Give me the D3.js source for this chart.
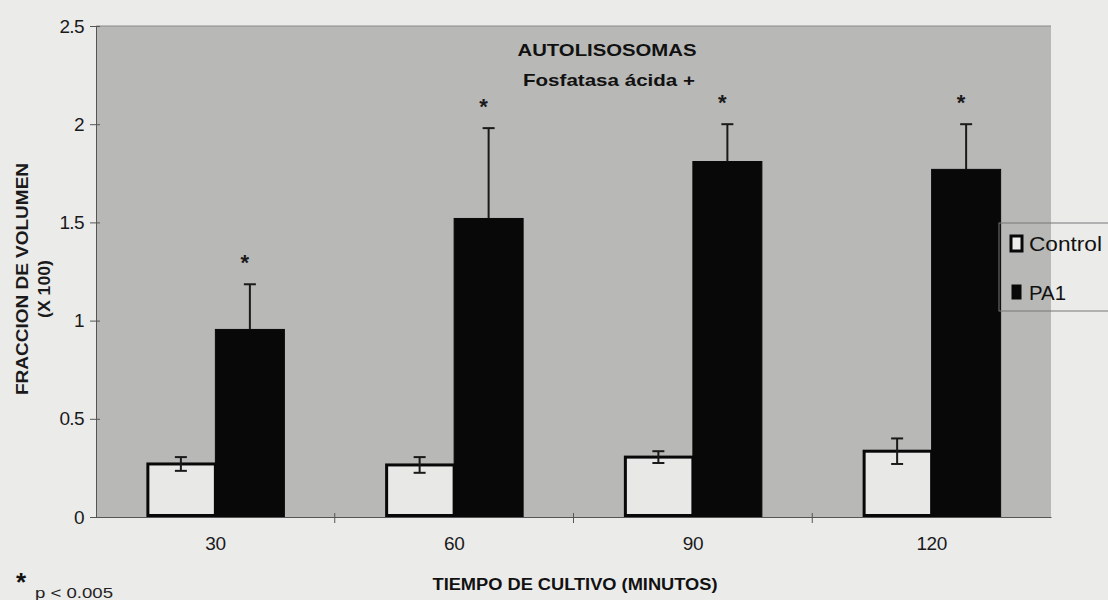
<!DOCTYPE html>
<html>
<head>
<meta charset="utf-8">
<script src="https://cdn.jsdelivr.net/npm/d3@7"></script>
<style>
  body { margin: 0; background: #ebebea; }
  svg { display: block; font-family: "Liberation Sans", Arial, sans-serif; }
</style>
</head>
<body>
<svg id="chart" width="1108" height="600"></svg>
<script>
// data
var categories = ["30", "60", "90", "120"];
var seriesNames = ["Control", "PA1"];
var controlValues = [0.27, 0.265, 0.305, 0.335];
var controlErrors = [0.035, 0.04, 0.03, 0.065];
var pa1Values = [0.955, 1.52, 1.81, 1.77];
var pa1Errors = [0.23, 0.46, 0.19, 0.23];
var significant = [true, true, true, true];
var yTicks = [0, 0.5, 1, 1.5, 2, 2.5];

var svg = d3.select("#chart");
var margin = { left: 96, right: 57, top: 26, bottom: 83 };
var width = 1108 - margin.left - margin.right;
var height = 600 - margin.top - margin.bottom;

var g = svg.append("g").attr("transform", "translate(" + margin.left + "," + margin.top + ")");

var x0 = d3.scaleBand().domain(categories).range([0, width]).padding(0);
var x1 = d3.scaleBand().domain(seriesNames).range([0, x0.bandwidth()]).paddingOuter(0.73).paddingInner(0);
var y = d3.scaleLinear().domain([0, 2.5]).range([height, 0]);

// plot area
g.append("rect")
  .attr("width", width).attr("height", height)
  .attr("fill", "#b8b8b6");
g.append("line")
  .attr("x1", 0).attr("x2", width).attr("y1", 0).attr("y2", 0)
  .attr("stroke", "#8a8a8a").attr("stroke-width", 1);

var rows = categories.map(function (c, i) {
  return [
    { cat: c, key: "Control", v: controlValues[i], e: controlErrors[i] },
    { cat: c, key: "PA1", v: pa1Values[i], e: pa1Errors[i], sig: significant[i] }
  ];
});

var groups = g.selectAll(".grp").data(rows).join("g")
  .attr("class", "grp")
  .attr("transform", function (d) { return "translate(" + x0(d[0].cat) + ",0)"; });

groups.selectAll("rect").data(function (d) { return d; }).join("rect")
  .attr("x", function (d) { return x1(d.key) + (d.key == "Control" ? 1.5 : 0); })
  .attr("y", function (d) { return y(d.v); })
  .attr("width", function (d) { return x1.bandwidth() - (d.key == "Control" ? 1.5 : 0); })
  .attr("height", function (d) { return height - y(d.v) - (d.key == "Control" ? 1.5 : 0); })
  .attr("fill", function (d) { return d.key == "Control" ? "#e8e8e6" : "#080808"; })
  .attr("stroke", "#080808")
  .attr("stroke-width", function (d) { return d.key == "Control" ? 3 : 1; });

// error bars
var err = groups.selectAll(".err").data(function (d) { return d; }).join("g")
  .attr("class", "err")
  .attr("stroke", "#1a1a1a")
  .attr("stroke-width", 2);
err.append("line")
  .attr("x1", function (d) { return x1(d.key) + x1.bandwidth() / 2; })
  .attr("x2", function (d) { return x1(d.key) + x1.bandwidth() / 2; })
  .attr("y1", function (d) { return d.key == "Control" ? y(d.v - d.e) : y(d.v); })
  .attr("y2", function (d) { return y(d.v + d.e); });
err.append("line")
  .attr("x1", function (d) { return x1(d.key) + x1.bandwidth() / 2 - 6; })
  .attr("x2", function (d) { return x1(d.key) + x1.bandwidth() / 2 + 6; })
  .attr("y1", function (d) { return y(d.v + d.e); })
  .attr("y2", function (d) { return y(d.v + d.e); });
err.filter(function (d) { return d.key == "Control"; }).append("line")
  .attr("x1", function (d) { return x1(d.key) + x1.bandwidth() / 2 - 6; })
  .attr("x2", function (d) { return x1(d.key) + x1.bandwidth() / 2 + 6; })
  .attr("y1", function (d) { return y(d.v - d.e); })
  .attr("y2", function (d) { return y(d.v - d.e); });

// significance stars
groups.selectAll(".star").data(function (d) { return d.filter(function (r) { return r.sig; }); }).join("text")
  .attr("class", "star")
  .attr("x", function (d) { return x1(d.key) + x1.bandwidth() / 2 - 5; })
  .attr("y", function (d) { return y(d.v + d.e) - 14; })
  .attr("text-anchor", "middle")
  .attr("font-size", 22)
  .attr("font-weight", "bold")
  .attr("fill", "#1a1a1a")
  .text("*");

// axes
var yAxis = g.append("g")
  .call(d3.axisLeft(y).tickValues(yTicks).tickSize(5).tickFormat(function (d) { return d; }));
yAxis.select(".domain").attr("stroke", "#555");
yAxis.selectAll(".tick line").attr("stroke", "#555").attr("x2", 4).attr("x1", -6);
yAxis.selectAll("text").attr("font-size", 19).attr("fill", "#1a1a1a").attr("x", -12)
  .attr("letter-spacing", -0.6);

var xAxis = g.append("g").attr("transform", "translate(0," + height + ")")
  .call(d3.axisBottom(x0).tickSize(0).tickPadding(20));
xAxis.select(".domain").attr("stroke", "#555");
xAxis.selectAll("text").attr("font-size", 19).attr("fill", "#1a1a1a")
  .attr("letter-spacing", -0.5);
// tick marks between groups
g.selectAll(".sep").data(categories.slice(1)).join("line")
  .attr("class", "sep")
  .attr("x1", function (d) { return x0(d); }).attr("x2", function (d) { return x0(d); })
  .attr("y1", height - 4).attr("y2", height + 6)
  .attr("stroke", "#555");

// titles
g.append("text").attr("x", 511).attr("y", 30)
  .attr("text-anchor", "middle").attr("font-size", 17).attr("font-weight", "bold")
  .attr("textLength", 179).attr("lengthAdjust", "spacingAndGlyphs").attr("fill", "#111")
  .text("AUTOLISOSOMAS");
g.append("text").attr("x", 513).attr("y", 60)
  .attr("text-anchor", "middle").attr("font-size", 17).attr("font-weight", "bold")
  .attr("textLength", 172).attr("lengthAdjust", "spacingAndGlyphs").attr("fill", "#111")
  .text("Fosfatasa ácida +");

svg.append("text")
  .attr("transform", "translate(28,279) rotate(-90)")
  .attr("text-anchor", "middle").attr("font-size", 17).attr("font-weight", "bold")
  .attr("textLength", 232).attr("lengthAdjust", "spacingAndGlyphs")
  .attr("fill", "#1a1a1a")
  .text("FRACCION DE VOLUMEN");
svg.append("text")
  .attr("transform", "translate(50,289) rotate(-90)")
  .attr("text-anchor", "middle").attr("font-size", 17).attr("font-weight", "bold")
  .attr("textLength", 58).attr("lengthAdjust", "spacingAndGlyphs")
  .attr("fill", "#1a1a1a")
  .text("(X 100)");

svg.append("text").attr("x", 575).attr("y", 590)
  .attr("text-anchor", "middle").attr("font-size", 16).attr("font-weight", "bold")
  .attr("textLength", 285).attr("lengthAdjust", "spacingAndGlyphs").attr("fill", "#111")
  .text("TIEMPO DE CULTIVO (MINUTOS)");

svg.append("text").attr("x", 21).attr("y", 591)
  .attr("text-anchor", "middle").attr("font-size", 26).attr("font-weight", "bold").attr("fill", "#111")
  .text("*");
svg.append("text").attr("x", 35).attr("y", 598)
  .attr("font-size", 15).attr("fill", "#222")
  .attr("textLength", 78).attr("lengthAdjust", "spacingAndGlyphs")
  .text("p < 0.005");

// legend
var legend = svg.append("g").attr("transform", "translate(999,223)");
legend.append("rect")
  .attr("width", 130).attr("height", 88)
  .attr("fill", "none").attr("stroke", "#777").attr("stroke-width", 1);
var li = legend.selectAll(".li").data(seriesNames).join("g")
  .attr("class", "li")
  .attr("transform", function (d, i) { return "translate(12," + (13 + i * 49) + ")"; });
li.append("rect")
  .attr("x", function (d, i) { return i ? 1 : 0; })
  .attr("y", 0)
  .attr("width", function (d, i) { return i ? 9 : 11; })
  .attr("height", function (d, i) { return i ? 14 : 15; })
  .attr("fill", function (d, i) { return i ? "#080808" : "#eeeeec"; })
  .attr("stroke", "#080808").attr("stroke-width", function (d, i) { return i ? 1 : 3; });
li.append("text")
  .attr("x", 18).attr("y", 15)
  .attr("font-size", 20).attr("fill", "#111")
  .attr("textLength", function (d) { return d == "Control" ? 73 : 37; })
  .attr("lengthAdjust", "spacingAndGlyphs")
  .text(function (d) { return d; });
</script>
</body>
</html>
